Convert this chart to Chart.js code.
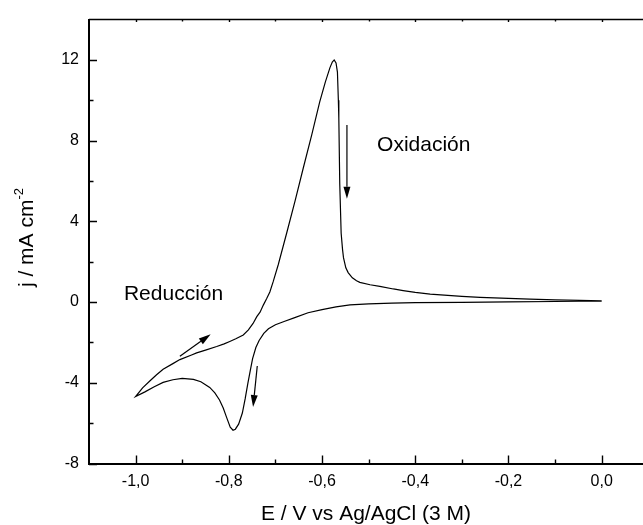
<!DOCTYPE html>
<html>
<head>
<meta charset="utf-8">
<script src="https://cdn.jsdelivr.net/npm/chart.js@4.4.0/dist/chart.umd.min.js"></script>
<style>
  html, body { margin: 0; padding: 0; background: #fff; }
</style>
</head>
<body>
<canvas id="cv" width="643" height="525"></canvas>
<script>
// voltammogram, in scan order: from 0,0 V down to -1,0 V and back
const potential = [
  0.0, -0.05, -0.1, -0.2, -0.3, -0.4, -0.45, -0.5, -0.54, -0.57,
  -0.6, -0.63, -0.66, -0.68, -0.7, -0.715, -0.725, -0.735, -0.742, -0.749,
  -0.754, -0.759, -0.765, -0.771, -0.779, -0.786, -0.791, -0.797, -0.805, -0.812,
  -0.82, -0.83, -0.841, -0.86, -0.876, -0.9, -0.92, -0.941, -0.96, -0.98,
  -1.0,
  -0.985, -0.969, -0.955, -0.941, -0.92, -0.905, -0.88, -0.869, -0.85,
  -0.826, -0.81, -0.798, -0.785, -0.769, -0.758, -0.748, -0.74, -0.733, -0.726,
  -0.719, -0.712, -0.705, -0.694, -0.676, -0.658, -0.64, -0.622, -0.605, -0.593,
  -0.583, -0.578, -0.574, -0.57, -0.567, -0.565, -0.564, -0.562, -0.559, -0.556,
  -0.554, -0.549, -0.544, -0.535, -0.526, -0.519, -0.497, -0.476, -0.447, -0.426,
  -0.4, -0.368, -0.3, -0.261, -0.2, -0.154, -0.1, -0.047, 0.0
]
const current = [
  0.05, 0.04, 0.03, 0.01, -0.01, -0.03, -0.05, -0.09, -0.14, -0.24,
  -0.37, -0.53, -0.78, -0.95, -1.12, -1.32, -1.55, -1.9, -2.25, -2.8,
  -3.4, -4.0, -4.8, -5.5, -6.05, -6.3, -6.35, -6.2, -5.7, -5.25,
  -4.85, -4.5, -4.23, -3.95, -3.83, -3.78, -3.85, -3.98, -4.2, -4.45,
  -4.68,
  -4.25, -3.9, -3.6, -3.33, -3.05, -2.85, -2.62, -2.52, -2.38,
  -2.2, -2.07, -1.95, -1.82, -1.63, -1.38, -1.06, -0.72, -0.5, -0.15,
  0.16, 0.5, 1.0, 1.85, 3.41, 5.0, 6.67, 8.3, 9.92, 10.9,
  11.62, 11.9, 12.0, 11.85, 11.4, 10.0, 9.1, 5.85, 3.41, 2.6,
  2.2, 1.7, 1.46, 1.2, 1.06, 0.98, 0.86, 0.78, 0.65, 0.57,
  0.48, 0.39, 0.28, 0.23, 0.18, 0.15, 0.11, 0.08, 0.06
]

const xMajor = [-1.0, -0.8, -0.6, -0.4, -0.2, 0.0]
const xMinor = [-0.9, -0.7, -0.5, -0.3, -0.1]
const yMajor = [-8, -4, 0, 4, 8, 12]
const yMinor = [-6, -2, 2, 6, 10]

// arrows and notes, in data units
const arrowFrom = [[-0.5466, 8.78], [-0.739, -3.17], [-0.905, -2.68]]
const arrowTo = [[-0.5466, 5.12], [-0.748, -5.2], [-0.839, -1.6]]
const notes = ['Oxidación', 'Reducción']
const notePos = [[-0.482, 7.5], [-1.025, 0.1]]

const FONT = "'Liberation Sans', Arial, sans-serif"

const decor = {
  id: 'decor',
  afterDraw(chart) {
    const { ctx, chartArea: a, scales: { x, y } } = chart
    ctx.save()
    ctx.strokeStyle = '#000'
    ctx.fillStyle = '#000'

    // top frame line
    ctx.lineWidth = 1.5
    ctx.beginPath()
    ctx.moveTo(a.left, a.top)
    ctx.lineTo(a.right, a.top)
    ctx.stroke()

    // inward ticks
    ctx.lineWidth = 1.4
    ctx.beginPath()
    const xt = (list, len, topLen) => list.forEach(v => {
      const px = Math.round(x.getPixelForValue(v)) + 0.5
      ctx.moveTo(px, a.bottom); ctx.lineTo(px, a.bottom - len)
      ctx.moveTo(px, a.top); ctx.lineTo(px, a.top + topLen)
    })
    const yt = (list, len) => list.forEach(v => {
      const py = Math.round(y.getPixelForValue(v)) + 0.5
      ctx.moveTo(a.left, py); ctx.lineTo(a.left + len, py)
    })
    xt(xMajor, 8, 2.5)
    xt(xMinor, 4, 2)
    yt(yMajor, 8)
    yt(yMinor, 4.5)
    ctx.stroke()

    // arrows
    ctx.lineWidth = 1.2
    arrowFrom.forEach((f, i) => {
      const x0 = x.getPixelForValue(f[0]), y0 = y.getPixelForValue(f[1])
      const x1 = x.getPixelForValue(arrowTo[i][0]), y1 = y.getPixelForValue(arrowTo[i][1])
      const ang = Math.atan2(y1 - y0, x1 - x0)
      const hl = 12, hw = 3.5
      ctx.beginPath()
      ctx.moveTo(x0, y0)
      ctx.lineTo(x1 - hl * Math.cos(ang), y1 - hl * Math.sin(ang))
      ctx.stroke()
      ctx.beginPath()
      ctx.moveTo(x1, y1)
      ctx.lineTo(x1 - hl * Math.cos(ang) + hw * Math.sin(ang), y1 - hl * Math.sin(ang) - hw * Math.cos(ang))
      ctx.lineTo(x1 - hl * Math.cos(ang) - hw * Math.sin(ang), y1 - hl * Math.sin(ang) + hw * Math.cos(ang))
      ctx.closePath()
      ctx.fill()
    })

    // notes
    ctx.font = '21px ' + FONT
    ctx.textAlign = 'left'
    ctx.textBaseline = 'alphabetic'
    notes.forEach((t, i) => {
      ctx.fillText(t, x.getPixelForValue(notePos[i][0]), y.getPixelForValue(notePos[i][1]))
    })

    // y title with superscript
    const main = 'j / mA cm', sup = '-2'
    ctx.font = '21px ' + FONT
    const w1 = ctx.measureText(main).width
    ctx.font = '13px ' + FONT
    const w2 = ctx.measureText(sup).width
    ctx.translate(33, (a.top + a.bottom) / 2 - 4)
    ctx.rotate(-Math.PI / 2)
    const sx = -(w1 + w2) / 2
    ctx.font = '21px ' + FONT
    ctx.fillText(main, sx, 0)
    ctx.font = '13px ' + FONT
    ctx.fillText(sup, sx + w1, -10)
    ctx.restore()
  }
}

new Chart(document.getElementById('cv'), {
  type: 'scatter',
  data: {
    datasets: [{
      data: potential.map((e, i) => ({ x: e, y: current[i] })),
      showLine: true,
      borderColor: '#000',
      borderWidth: 1.2,
      pointRadius: 0,
      tension: 0
    }]
  },
  options: {
    responsive: false,
    animation: false,
    layout: { padding: { top: 13, left: 0, right: 0, bottom: 0 } },
    plugins: {
      legend: { display: false },
      tooltip: { enabled: false }
    },
    scales: {
      x: {
        type: 'linear',
        min: -1.1,
        max: 0.0886,
        afterBuildTicks: s => { s.ticks = xMajor.map(v => ({ value: v })) },
        afterFit: s => { s.height = 61.5 },
        grid: { display: false, drawTicks: false },
        border: { display: true, color: '#000', width: 2 },
        ticks: {
          color: '#000',
          padding: 8,
          maxRotation: 0,
          font: { family: FONT, size: 16 },
          callback: v => v.toFixed(1).replace('.', ',')
        },
        title: {
          display: true,
          text: 'E / V vs Ag/AgCl (3 M)',
          color: '#000',
          padding: 0,
          font: { family: FONT, size: 21, lineHeight: 1 }
        }
      },
      y: {
        type: 'linear',
        min: -8,
        max: 14,
        afterBuildTicks: s => { s.ticks = yMajor.map(v => ({ value: v })) },
        afterFit: s => { s.width = 89 },
        grid: { display: false, drawTicks: false },
        border: { display: true, color: '#000', width: 2 },
        ticks: {
          color: '#000',
          padding: 10,
          font: { family: FONT, size: 16 },
          callback: v => String(v)
        }
      }
    }
  },
  plugins: [decor]
})
</script>
</body>
</html>
